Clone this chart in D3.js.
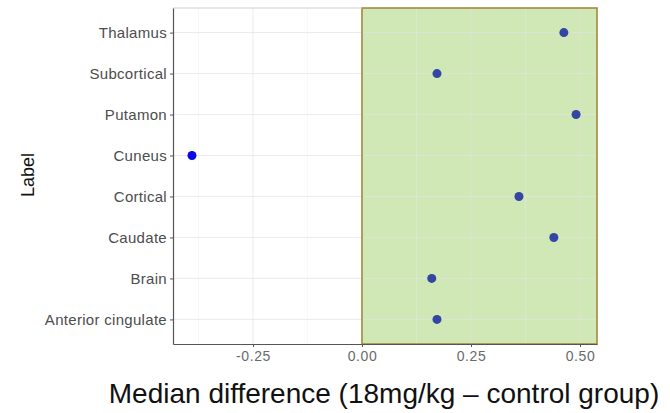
<!DOCTYPE html>
<html><head><meta charset="utf-8">
<script src="https://cdn.jsdelivr.net/npm/d3@7"></script>
<style>body{margin:0;background:#fff}svg{display:block}</style>
</head><body>
<script>
const labels = ["Thalamus","Subcortical","Putamon","Cuneus","Cortical","Caudate","Brain","Anterior cingulate"];
const values = [0.463, 0.172, 0.491, -0.39, 0.36, 0.44, 0.16, 0.172];
const xTicks = [-0.25, 0, 0.25, 0.5];
const xTickLabels = ["-0.25", "0.00", "0.25", "0.50"];
const xMinor = [-0.375, -0.125, 0.125, 0.375];
const xDomain = [-0.4335, 0.539];

const W = 670, H = 413;
const m = {left:173, right:73, top:8, bottom:69};
const FONT = "Liberation Sans, Arial, sans-serif";
const svg = d3.select("body").append("svg").attr("width",W).attr("height",H);
const x = d3.scaleLinear().domain(xDomain).range([m.left, W-m.right]);
const y = d3.scalePoint().domain(labels).range([m.top, H-m.bottom]).padding(0.6);

const g = svg.append("g");
// green region
g.append("rect").attr("x", x(0)).attr("y", m.top).attr("width", x(xDomain[1]) - x(0)).attr("height", H-m.bottom-m.top)
  .attr("fill","#cfe8b6");
// grid
g.selectAll(".minor").data(xMinor).enter().append("line")
  .attr("x1",d=>x(d)).attr("x2",d=>x(d)).attr("y1",m.top).attr("y2",H-m.bottom)
  .attr("stroke","#ececec").attr("stroke-opacity",0.6).attr("stroke-width",0.6);
g.selectAll(".major").data(xTicks).enter().append("line")
  .attr("x1",d=>x(d)).attr("x2",d=>x(d)).attr("y1",m.top).attr("y2",H-m.bottom)
  .attr("stroke","#e2e2e2").attr("stroke-opacity",0.7).attr("stroke-width",1);
g.selectAll(".hgrid").data(labels).enter().append("line")
  .attr("x1",m.left).attr("x2",W-m.right).attr("y1",d=>y(d)).attr("y2",d=>y(d))
  .attr("stroke","#e2e2e2").attr("stroke-opacity",0.7).attr("stroke-width",1);
// green border
g.append("rect").attr("x", x(0)).attr("y", m.top).attr("width", x(xDomain[1]) - x(0)).attr("height", H-m.bottom-m.top)
  .attr("fill","none").attr("stroke","#a38a3c").attr("stroke-width",1.6);
// top border light
g.append("line").attr("x1",m.left).attr("x2",x(0)).attr("y1",m.top).attr("y2",m.top).attr("stroke","#cfcfcf");

// axes
const xAxis = d3.axisBottom(x).tickValues(xTicks).tickFormat((d,i)=>xTickLabels[i]).tickSize(3).tickSizeOuter(0).tickPadding(4);
const xa = svg.append("g").attr("transform",`translate(0,${H-m.bottom})`).call(xAxis);
xa.select(".domain").attr("stroke","#555").attr("stroke-width",1.2);
xa.selectAll(".tick line").attr("stroke","#555");
xa.selectAll(".tick text").attr("fill","#6a6a6a").style("font-family",FONT).style("font-size","14px").style("letter-spacing","0.6px");

const yAxis = d3.axisLeft(y).tickSize(3).tickSizeOuter(0).tickPadding(3);
const ya = svg.append("g").attr("transform",`translate(${m.left},0)`).call(yAxis);
ya.select(".domain").attr("stroke","#555").attr("stroke-width",1.2);
ya.selectAll(".tick line").attr("stroke","#555");
ya.selectAll(".tick text").attr("fill","#4d4d4d").style("font-family",FONT).style("font-size","15px").style("letter-spacing","0.3px");

// points
svg.selectAll(".pt").data(labels).enter().append("circle")
  .attr("cx",(d,i)=>x(values[i])).attr("cy",d=>y(d)).attr("r",4.5)
  .attr("fill",(d,i)=>values[i] >= 0 ? "#3346a3" : "#0a0ae6");

// titles
svg.append("text").attr("transform",`translate(34,${175}) rotate(-90)`)
  .attr("text-anchor","middle").style("font-family",FONT).style("font-size","18px").attr("fill","#111").text("Label");
svg.append("text").attr("x",384).attr("y",403).attr("text-anchor","middle")
  .style("font-family",FONT).style("font-size","28px").attr("fill","#111")
  .text("Median difference (18mg/kg – control group)");
</script>
</body></html>
